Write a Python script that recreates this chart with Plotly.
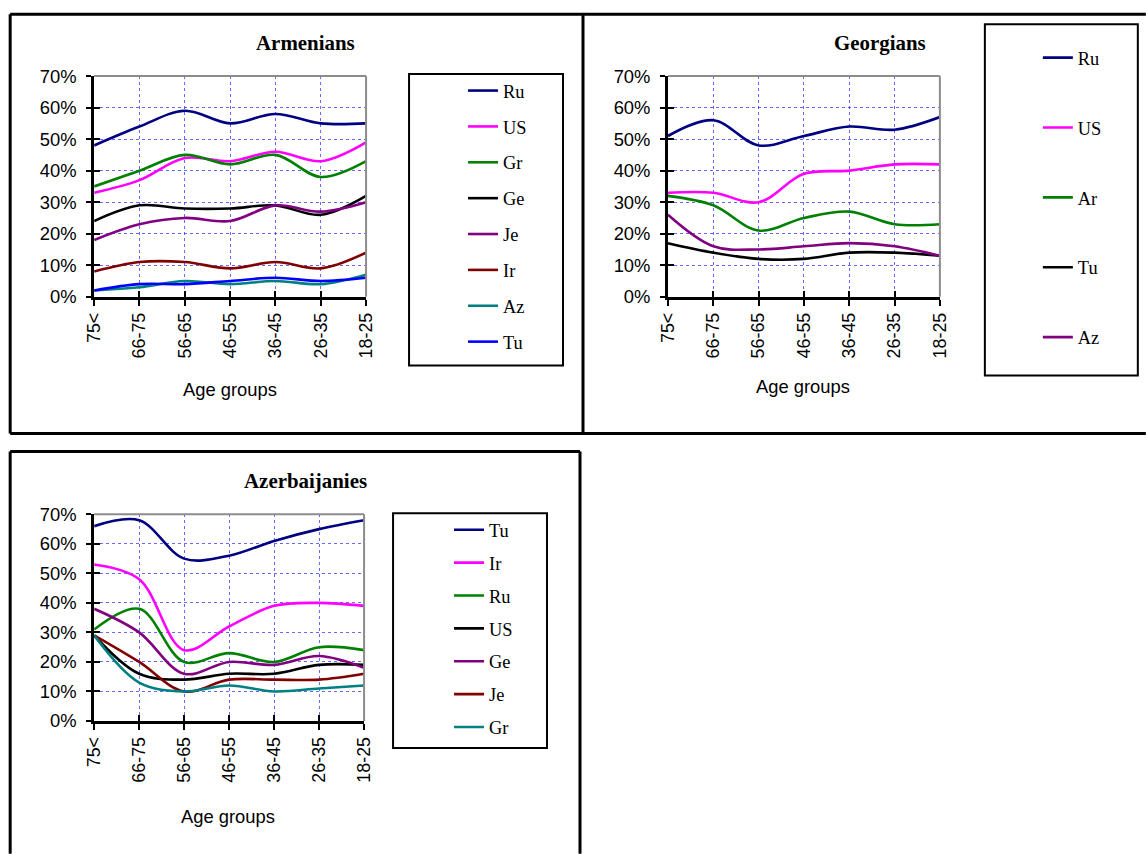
import plotly.graph_objects as go

W, H = 1146, 854
# Placement calibration: reference pixel -> page pixel (page shown framed & scaled)
SX, SY, PAD = 1146 / 1166, 854 / 874, 10
FS = 1.02  # font scaling compensation

age_groups = ["75<", "66-75", "56-65", "46-55", "36-45", "26-35", "18-25"]

# Armenians
arm_names = ["Ru", "US", "Gr", "Ge", "Je", "Ir", "Az", "Tu"]
arm_Ru = [0.48, 0.54, 0.59, 0.55, 0.58, 0.55, 0.55]
arm_US = [0.33, 0.37, 0.44, 0.43, 0.46, 0.43, 0.49]
arm_Gr = [0.35, 0.40, 0.45, 0.42, 0.45, 0.38, 0.43]
arm_Ge = [0.24, 0.29, 0.28, 0.28, 0.29, 0.26, 0.32]
arm_Je = [0.18, 0.23, 0.25, 0.24, 0.29, 0.27, 0.30]
arm_Ir = [0.08, 0.11, 0.11, 0.09, 0.11, 0.09, 0.14]
arm_Az = [0.02, 0.03, 0.05, 0.04, 0.05, 0.04, 0.07]
arm_Tu = [0.02, 0.04, 0.04, 0.05, 0.06, 0.05, 0.06]

# Georgians
geo_names = ["Ru", "US", "Ar", "Tu", "Az"]
geo_Ru = [0.51, 0.56, 0.48, 0.51, 0.54, 0.53, 0.57]
geo_US = [0.33, 0.33, 0.30, 0.39, 0.40, 0.42, 0.42]
geo_Ar = [0.32, 0.29, 0.21, 0.25, 0.27, 0.23, 0.23]
geo_Tu = [0.17, 0.14, 0.12, 0.12, 0.14, 0.14, 0.13]
geo_Az = [0.26, 0.16, 0.15, 0.16, 0.17, 0.16, 0.13]

# Azerbaijanies
aze_names = ["Tu", "Ir", "Ru", "US", "Ge", "Je", "Gr"]
aze_Tu = [0.66, 0.68, 0.55, 0.56, 0.61, 0.65, 0.68]
aze_Ir = [0.53, 0.48, 0.24, 0.32, 0.39, 0.40, 0.39]
aze_Ru = [0.31, 0.38, 0.20, 0.23, 0.20, 0.25, 0.24]
aze_US = [0.29, 0.16, 0.14, 0.16, 0.16, 0.19, 0.19]
aze_Ge = [0.38, 0.30, 0.16, 0.20, 0.19, 0.22, 0.18]
aze_Je = [0.29, 0.20, 0.10, 0.14, 0.14, 0.14, 0.16]
aze_Gr = [0.29, 0.13, 0.10, 0.12, 0.10, 0.11, 0.12]

NAVY, MAG, GRN, BLK, PUR, MAR, TEAL, BLUE = (
    "#000080", "#FF00FF", "#008000", "#000000", "#800080", "#800000", "#008080", "#0000FF")

panels = [
    dict(title="Armenians", ax="", ov="4", names=arm_names,
         values=[arm_Ru, arm_US, arm_Gr, arm_Ge, arm_Je, arm_Ir, arm_Az, arm_Tu],
         colors=[NAVY, MAG, GRN, BLK, PUR, MAR, TEAL, BLUE],
         plot=(94, 366, 75, 296), title_xy=(305, 42), age_xy=(230, 389),
         legend="legend", leg_box=(409, 73, 563, 365), leg_xy=(463, 71), gap=9),
    dict(title="Georgians", ax="2", ov="5", names=geo_names,
         values=[geo_Ru, geo_US, geo_Ar, geo_Tu, geo_Az],
         colors=[NAVY, MAG, GRN, BLK, PUR],
         plot=(668, 940, 75, 296), title_xy=(880, 42), age_xy=(803, 386),
         legend="legend2", leg_box=(985, 23, 1138, 375), leg_xy=(1038, 38), gap=43),
    dict(title="Azerbaijanies", ax="3", ov="6", names=aze_names,
         values=[aze_Tu, aze_Ir, aze_Ru, aze_US, aze_Ge, aze_Je, aze_Gr],
         colors=[NAVY, MAG, GRN, BLK, PUR, MAR, TEAL],
         plot=(94, 364, 514, 721), title_xy=(305, 481), age_xy=(228, 817),
         legend="legend3", leg_box=(393, 513, 547, 748), leg_xy=(449, 511), gap=6),
]

def fx(x):
    return (x / SX - PAD) / W

def fy(y):
    return 1 - (y / SY - PAD) / H

LAB = dict(family="Liberation Sans, Arial", color="black")
SER = dict(family="Liberation Serif, Times New Roman", color="black")
GRID = "rgba(40,40,255,0.7)"

fig = go.Figure()
shapes = []
annotations = []
layout = dict(
    width=W, height=H, margin=dict(l=0, r=0, t=0, b=0),
    paper_bgcolor="white", plot_bgcolor="white",
    showlegend=True,
)

for p in panels:
    ax, ov = p["ax"], p["ov"]
    for name, vals, col in zip(p["names"], p["values"], p["colors"]):
        fig.add_trace(go.Scatter(
            x=age_groups, y=vals, name=name, mode="lines",
            line=dict(color=col, width=2.6, shape="spline", smoothing=1.0),
            xaxis="x" + ax, yaxis="y" + ax,
            legend=p["legend"], legendgroup=p["legend"] + name,
        ))
    # empty trace holding the overlay axes that draw the inner half of the crossing ticks
    fig.add_trace(go.Scatter(x=[], y=[], xaxis="x" + ov, yaxis="y" + ov,
                             showlegend=False, hoverinfo="skip"))
    x0, x1, y0, y1 = p["plot"]
    layout["xaxis" + ax] = dict(
        domain=[fx(x0), fx(x1)], anchor="y" + ax, type="category",
        range=[0, 6], showgrid=True, gridcolor=GRID, griddash="dot",
        gridwidth=1, showline=True, linecolor="black", linewidth=2.8,
        ticks="outside", ticklen=6, tickwidth=2, tickcolor="black",
        tickangle=-90, tickfont=dict(size=17.5 * FS, **LAB),
        zeroline=False, fixedrange=True,
    )
    layout["yaxis" + ax] = dict(
        domain=[fy(y1), fy(y0)], anchor="x" + ax,
        range=[0, 0.7], dtick=0.1, tickformat=".0%",
        showgrid=True, gridcolor=GRID, griddash="dot", gridwidth=1,
        showline=True, linecolor="black", linewidth=2.8,
        ticks="outside", ticklen=5, tickwidth=2, tickcolor="black",
        ticklabelstandoff=6,
        tickfont=dict(size=18 * FS, **LAB),
        zeroline=False, fixedrange=True,
    )
    layout["xaxis" + ov] = dict(
        overlaying="x" + ax, anchor="y" + ov, range=[0, 6], dtick=1,
        showgrid=False, showline=False, showticklabels=False, zeroline=False,
        ticks="inside", ticklen=6, tickwidth=2, tickcolor="black", fixedrange=True,
    )
    layout["yaxis" + ov] = dict(
        overlaying="y" + ax, anchor="x" + ov, range=[0, 0.7], dtick=0.1,
        showgrid=False, showline=False, showticklabels=False, zeroline=False,
        ticks="inside", ticklen=6, tickwidth=2, tickcolor="black", fixedrange=True,
    )
    # gray top/right frame of plot area
    shapes.append(dict(type="line", xref="paper", yref="paper",
                       x0=fx(x0), x1=fx(x1), y0=fy(y0), y1=fy(y0),
                       line=dict(color="#8c8c8c", width=2)))
    shapes.append(dict(type="line", xref="paper", yref="paper",
                       x0=fx(x1), x1=fx(x1), y0=fy(y0), y1=fy(y1),
                       line=dict(color="#8c8c8c", width=2)))
    # legend box
    lx0, ly0, lx1, ly1 = p["leg_box"]
    shapes.append(dict(type="rect", xref="paper", yref="paper",
                       x0=fx(lx0), x1=fx(lx1), y0=fy(ly1), y1=fy(ly0),
                       line=dict(color="black", width=2)))
    lgx, lgy = p["leg_xy"]
    layout[p["legend"]] = dict(
        x=fx(lgx), y=fy(lgy), xanchor="left", yanchor="top",
        bgcolor="rgba(0,0,0,0)", borderwidth=0, tracegroupgap=p["gap"],
        font=dict(size=18 * FS, **SER),
    )
    tx, ty = p["title_xy"]
    annotations.append(dict(text="<b>" + p["title"] + "</b>", x=fx(tx), y=fy(ty),
                            xref="paper", yref="paper", showarrow=False,
                            xanchor="center", yanchor="middle",
                            font=dict(size=20.5 * FS, **SER)))
    axx, axy = p["age_xy"]
    annotations.append(dict(text="Age groups", x=fx(axx), y=fy(axy),
                            xref="paper", yref="paper", showarrow=False,
                            xanchor="center", yanchor="middle",
                            font=dict(size=18 * FS, **LAB)))

# panel frames
def line(xa, ya, xb, yb):
    shapes.append(dict(type="line", xref="paper", yref="paper",
                       x0=fx(xa), y0=fy(ya), x1=fx(xb), y1=fy(yb),
                       line=dict(color="black", width=3)))

line(10, 13, 1146, 13)
line(10, 433, 1146, 433)
line(10, 13, 10, 433)
line(583, 13, 583, 433)
line(10, 451, 580, 451)
line(10, 451, 10, 854)
line(580, 451, 580, 854)

layout["shapes"] = shapes
layout["annotations"] = annotations
fig.update_layout(**layout)
fig.write_html("out.html", config={"displayModeBar": False},
               post_script="document.body.style.margin='0';document.body.style.overflow='hidden';")
